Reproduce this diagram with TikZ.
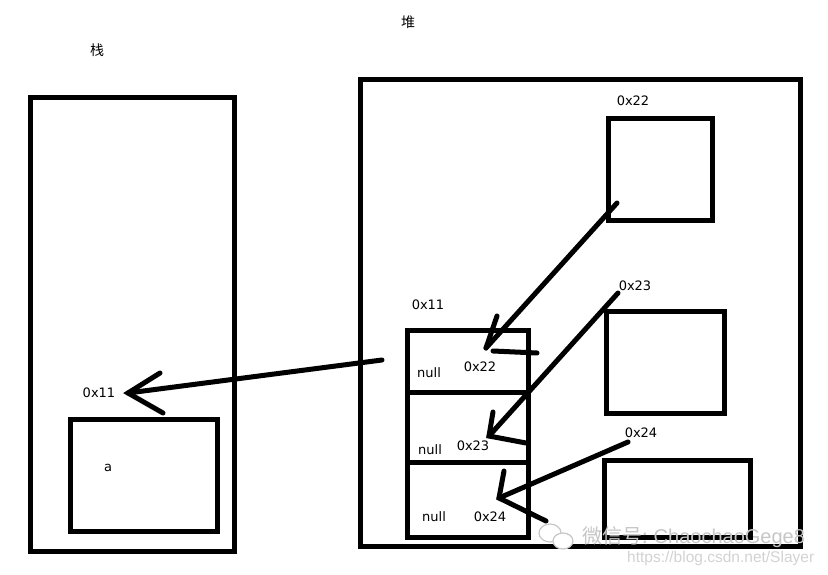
\documentclass[tikz,border=0pt]{standalone}
\usepackage{fontspec}
\setmainfont{DejaVu Sans}
\newfontfamily\cjk{Noto Sans CJK SC}
\newfontfamily\wmfont{Liberation Sans}
\begin{document}
\begin{tikzpicture}[x=1pt,y=-1pt,
  box/.style={draw,line width=5pt,inner sep=0pt,outer sep=0pt,anchor=north west},
  ptr/.style={line width=5pt,line cap=round},
  lbl/.style={font=\fontsize{13}{13}\selectfont,inner sep=0pt},
  zh/.style={font=\cjk\fontsize{14}{14}\selectfont,inner sep=0pt},
  wm/.style={text=gray!45,inner sep=0pt}]
\useasboundingbox (0,0) rectangle (828,575);
% stack
\node[box,minimum width=204pt,minimum height=453pt] (stack) at (30,98) {};
\node[box,minimum width=147pt,minimum height=112pt] (avar) at (70,419) {};
\node[zh] (stacklbl) at (97,50) {栈};
\node[lbl] (alabel) at (108,468) {a};
\node[lbl] (p11) at (99,393) {0x11};
% heap
\node[box,minimum width=440pt,minimum height=466pt] (heap) at (360,80) {};
\node[zh] (heaplbl) at (408,22) {堆};
\node[box,minimum width=104pt,minimum height=102pt] (b22) at (608,119) {};
\node[box,minimum width=118pt,minimum height=102pt] (b23) at (606,311) {};
\node[box,minimum width=146pt,minimum height=77pt] (b24) at (604,460) {};
\node[lbl] (l22) at (633,101) {0x22};
\node[lbl] (l23) at (635,286) {0x23};
\node[lbl] (l24) at (641,433) {0x24};
% list object
\node[box,minimum width=121pt,minimum height=62pt] (c1) at (407,330) {};
\node[box,minimum width=121pt,minimum height=70pt] (c2) at (407,392) {};
\node[box,minimum width=121pt,minimum height=75pt] (c3) at (407,462) {};
\node[lbl] (l11) at (428,305) {0x11};
\node[lbl] (n1) at (429,373) {null};
\node[lbl] (n2) at (430,450) {null};
\node[lbl] (n3) at (434,517) {null};
\node[lbl] (v1) at (480,367) {0x22};
\node[lbl] (v2) at (473,446) {0x23};
\node[lbl] (v3) at (490,517) {0x24};
% arrow list -> stack
\coordinate (s1) at (382,360);
\coordinate (t1) at (128,393);
\coordinate (t1a) at (160,373);
\coordinate (t1b) at (163,413);
\draw[ptr] (s1) -- (t1);
\draw[ptr] (t1a) -- (t1) -- (t1b);
% arrow 0x22
\coordinate (s2) at (617,203);
\coordinate (t2) at (486,348);
\coordinate (t2a) at (497,316);
\coordinate (t2b) at (493,351);
\coordinate (t2c) at (537,353);
\draw[ptr] (s2) -- (t2);
\draw[ptr] (t2a) -- (t2);
\draw[ptr] (t2b) -- (t2c);
% arrow 0x23
\coordinate (s3) at (618,293);
\coordinate (t3) at (489,436);
\coordinate (t3a) at (493,412);
\coordinate (t3b) at (526,443);
\draw[ptr] (s3) -- (t3);
\draw[ptr] (t3a) -- (t3) -- (t3b);
% arrow 0x24
\coordinate (s4) at (628,442);
\coordinate (t4) at (499,498);
\coordinate (t4a) at (504,471);
\coordinate (t4b) at (546,521);
\draw[ptr] (s4) -- (t4);
\draw[ptr] (t4a) -- (t4) -- (t4b);
% watermark
\draw[gray!45,line width=1.2pt,fill=white] (550,533) ellipse (11pt and 9pt);
\draw[gray!45,line width=1.2pt,fill=white] (563,541) ellipse (10pt and 8pt);
\node[wm,anchor=west,font=\cjk\fontsize{20}{20}\selectfont] (wm1) at (582,537) {微信号: \wmfont ChaochaoGege8};
\node[wm,anchor=west,font=\wmfont\fontsize{15.5}{15.5}\selectfont,text=gray!35] (wm2) at (627,558) {https://blog.csdn.net/Slayer};
\end{tikzpicture}
\end{document}
